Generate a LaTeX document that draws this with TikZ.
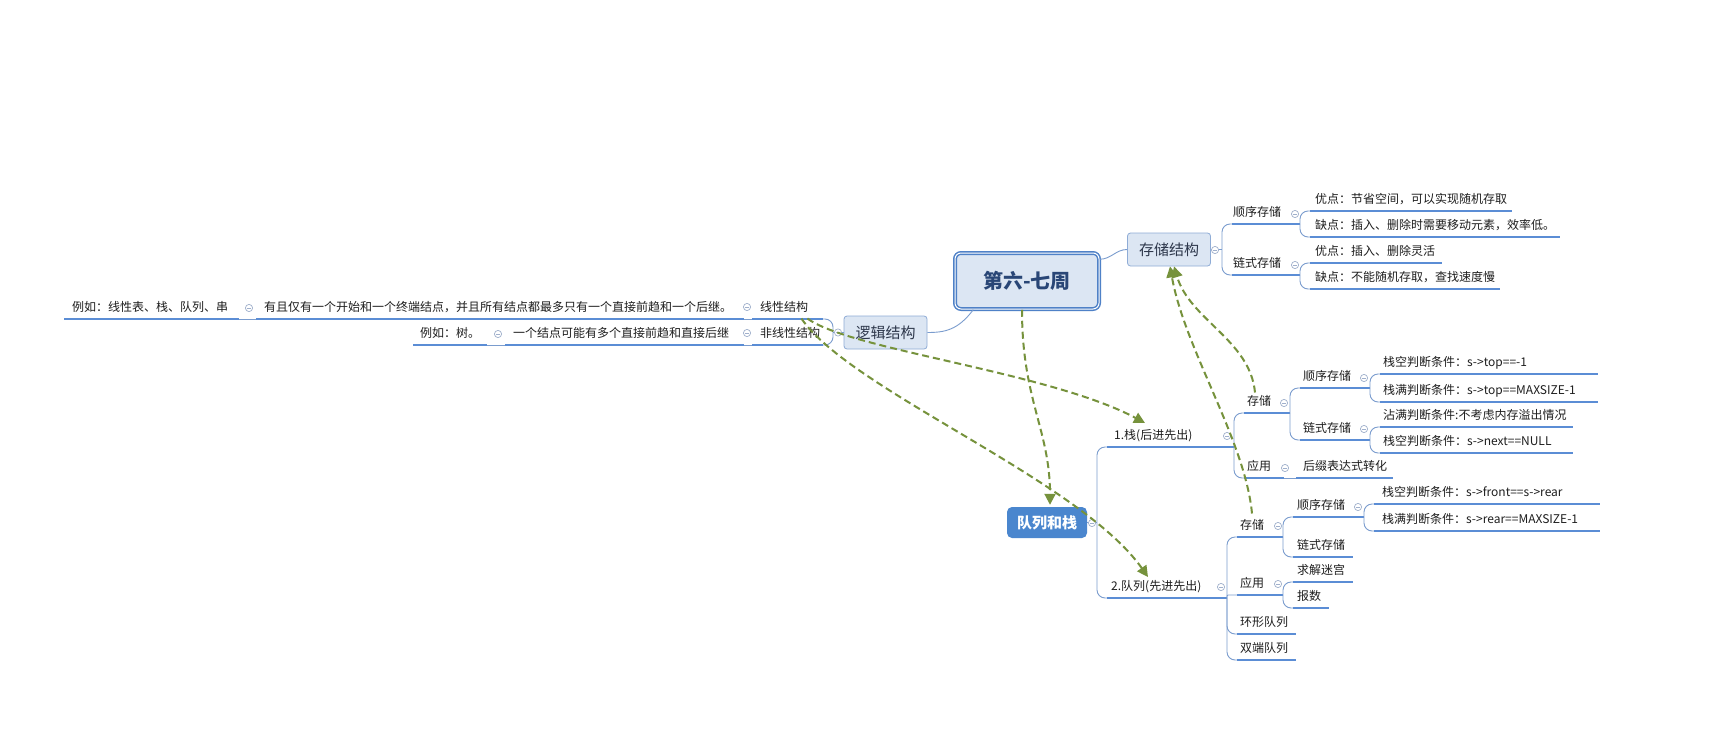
\documentclass[tikz,border=0pt]{standalone}
\usepackage{fontspec}
\setmainfont{Noto Sans CJK SC}
\usetikzlibrary{arrows.meta,calc}

\definecolor{ulc}{RGB}{91,141,213}
\definecolor{cnc}{RGB}{122,156,206}
\definecolor{mkc}{RGB}{160,176,204}
\definecolor{relc}{RGB}{118,146,60}
\definecolor{boxfill}{RGB}{220,230,243}
\definecolor{boxdraw}{RGB}{143,172,214}
\definecolor{centerdraw}{RGB}{79,129,199}
\definecolor{centertext}{RGB}{41,70,118}
\definecolor{qfill}{RGB}{74,134,206}
\definecolor{txtc}{RGB}{30,30,30}
\definecolor{boxtext}{RGB}{45,55,75}

\tikzset{
  tp/.style={inner sep=0pt, font=\fontsize{12}{14}\selectfont, text=txtc, anchor=base west},
  uline/.style={draw=ulc, line width=1.5pt},
  conn/.style={draw=cnc, line width=0.9pt, rounded corners=8pt},
  mk/.style={draw=mkc, line width=0.7pt, fill=white},
  rel/.style={draw=relc, line width=2pt, dash pattern=on 7pt off 4pt, -{Triangle[length=11pt,width=11pt]}},
  mbox/.style={draw=boxdraw, fill=boxfill, line width=0.8pt, rounded corners=3pt, minimum width=83pt, minimum height=33pt, inner sep=0pt, font=\fontsize{15}{18}\selectfont, text=boxtext},
  cbox/.style={draw=centerdraw, line width=1.5pt, double=white, double distance=1pt, fill=boxfill, rounded corners=6pt, minimum width=144pt, minimum height=56pt, inner sep=0pt, font=\fontsize{20}{24}\selectfont\bfseries, text=centertext},
  qbox/.style={fill=qfill, rounded corners=5pt, minimum width=80pt, minimum height=31pt, inner sep=0pt, font=\fontsize{15}{18}\selectfont\bfseries, text=white}
}

\newcommand\utopic[6]{%
  \node[tp] (#1) at (#2,#3-7.5) {#6};
  \coordinate (#1-l) at (#4,#3);
  \coordinate (#1-r) at (#5,#3);
  \draw[uline] (#1-l) -- (#1-r);}
\newcommand\colmark[2]{%
  \draw[mk] (#1,#2) circle (3.6pt);
  \draw[mk] (#1-2.2,#2) -- (#1+2.2,#2);}

\begin{document}
\begin{tikzpicture}[x=1pt,y=-1pt]
\fill[white] (0,0) rectangle (1722,755);
\useasboundingbox (0,0) rectangle (1722,755);

% main boxes
\node[cbox] (central) at (1027,281) {第六-七周};
\node[mbox] (stor) at (1169,249.5) {存储结构};
\node[mbox] (logic) at (885.5,332.5) {逻辑结构};
\node[qbox] (qz) at (1047,522.5) {队列和栈};

\draw[draw=cnc, line width=0.9pt] ($(central.north east)+(0,7)$) to[out=0,in=180] (stor.west);
\draw[draw=cnc, line width=0.9pt] ($(central.south west)+(19,0)$) .. controls (958,330) and (945,332.5) .. (logic.east);

% ---------- left: logic structure
\coordinate (logic-t) at (833,332.5);
\draw[conn] (logic.west) -- (logic-t);
\utopic{lin}{760}{319}{752}{823}{线性结构}
\utopic{nonlin}{760}{345}{752}{823}{非线性结构}
\draw[conn] (logic-t) |- (lin-r);
\draw[conn] (logic-t) |- (nonlin-r);
\utopic{g1}{264}{319}{256}{744}{有且仅有一个开始和一个终端结点，并且所有结点都最多只有一个直接前趋和一个后继。}
\utopic{g1a}{72}{319}{64}{239}{例如：线性表、栈、队列、串}
\utopic{g2}{513}{345}{505}{744}{一个结点可能有多个直接前趋和直接后继}
\utopic{g2a}{420}{345}{413}{487}{例如：树。}
\draw[conn] (lin-l) -- (g1-r);
\draw[conn] (g1-l) -- (g1a-r);
\draw[conn] (nonlin-l) -- (g2-r);
\draw[conn] (g2-l) -- (g2a-r);
\colmark{838}{332.5}
\colmark{747}{307}
\colmark{747}{333}
\colmark{249}{308}
\colmark{498}{334}

% ---------- right: storage structure
\coordinate (stor-t) at (1222,249.5);
\draw[conn] (stor.east) -- (stor-t);
\utopic{s1}{1233}{224}{1232}{1300}{顺序存储}
\utopic{s2}{1233}{275}{1232}{1300}{链式存储}
\draw[conn] (stor-t) |- (s1-l);
\draw[conn] (stor-t) |- (s2-l);
\utopic{s1a}{1315}{211}{1310}{1512}{优点：节省空间，可以实现随机存取}
\utopic{s1b}{1315}{237}{1310}{1560}{缺点：插入、删除时需要移动元素，效率低。}
\utopic{s2a}{1315}{263}{1310}{1442}{优点：插入、删除灵活}
\utopic{s2b}{1315}{289}{1310}{1500}{缺点：不能随机存取，查找速度慢}
\draw[conn] (s1-r) |- (s1a-l);
\draw[conn] (s1-r) |- (s1b-l);
\draw[conn] (s2-r) |- (s2a-l);
\draw[conn] (s2-r) |- (s2b-l);
\colmark{1215}{250}
\colmark{1295}{214}
\colmark{1295}{265}

% ---------- queue and stack
\coordinate (qz-t) at (1097,522.5);
\draw[conn] (qz.east) -- (qz-t);
\utopic{stk}{1114}{447}{1107}{1234}{1.栈(后进先出)}
\utopic{que}{1111}{598}{1107}{1227}{2.队列(先进先出)}
\draw[conn] (qz-t) |- (stk-l);
\draw[conn] (qz-t) |- (que-l);

\utopic{st}{1247}{413}{1244}{1290}{存储}
\utopic{sa}{1247}{478}{1244}{1284}{应用}
\draw[conn] (stk-r) |- (st-l);
\draw[conn] (stk-r) |- (sa-l);
\utopic{st1}{1303}{388}{1300}{1370}{顺序存储}
\utopic{st2}{1303}{440}{1300}{1370}{链式存储}
\draw[conn] (st-r) |- (st1-l);
\draw[conn] (st-r) |- (st2-l);
\utopic{st1a}{1383}{374}{1380}{1598}{栈空判断条件：s->top==-1}
\utopic{st1b}{1383}{402}{1380}{1598}{栈满判断条件：s->top==MAXSIZE-1}
\utopic{st2a}{1383}{427}{1380}{1573}{沾满判断条件:不考虑内存溢出情况}
\utopic{st2b}{1383}{453}{1380}{1573}{栈空判断条件：s->next==NULL}
\draw[conn] (st1-r) |- (st1a-l);
\draw[conn] (st1-r) |- (st1b-l);
\draw[conn] (st2-r) |- (st2a-l);
\draw[conn] (st2-r) |- (st2b-l);
\utopic{sa1}{1303}{478}{1296}{1393}{后缀表达式转化}
\draw[conn] (sa-r) -- (sa1-l);

\utopic{qs}{1240}{537}{1237}{1283}{存储}
\utopic{qa}{1240}{595}{1237}{1283}{应用}
\utopic{qr}{1240}{634}{1237}{1296}{环形队列}
\utopic{qd}{1240}{660}{1237}{1296}{双端队列}
\draw[conn] (que-r) |- (qs-l);
\draw[conn, rounded corners=1pt] (que-r) |- (qa-l);
\draw[conn] (que-r) |- (qr-l);
\draw[conn] (que-r) |- (qd-l);
\utopic{qs1}{1297}{517}{1293}{1364}{顺序存储}
\utopic{qs2}{1297}{557}{1293}{1353}{链式存储}
\draw[conn] (qs-r) |- (qs1-l);
\draw[conn] (qs-r) |- (qs2-l);
\utopic{qs1a}{1382}{504}{1374}{1600}{栈空判断条件：s->front==s->rear}
\utopic{qs1b}{1382}{531}{1374}{1600}{栈满判断条件：s->rear==MAXSIZE-1}
\draw[conn] (qs1-r) |- (qs1a-l);
\draw[conn] (qs1-r) |- (qs1b-l);
\utopic{qa1}{1297}{582}{1293}{1353}{求解迷宫}
\utopic{qa2}{1297}{608}{1293}{1329}{报数}
\draw[conn] (qa-r) |- (qa1-l);
\draw[conn] (qa-r) |- (qa2-l);

\colmark{1092}{523}
\colmark{1227}{436}
\colmark{1284}{403}
\colmark{1364}{378}
\colmark{1364}{429}
\colmark{1285}{468}
\colmark{1221}{587}
\colmark{1278}{526}
\colmark{1358}{507}
\colmark{1278}{584}

% ---------- relationship arrows
\draw[rel] ($(central.south)+(-5,0)$) .. controls (1022,400) and (1050,430) .. ($(qz.north)+(3,-2)$);
\draw[rel] ($(lin.base east)+(-1,7)$) .. controls (850,350) and (1050,372) .. ($(stk.base west)+(31,-16.5)$);
\draw[rel] ($(lin.base east)+(-7,7)$) .. controls (850,390) and (1080,480) .. ($(que.base west)+(37,-13.5)$);
\draw[rel] ($(st.base west)+(8,-13)$) .. controls (1250,340) and (1190,320) .. ($(stor.south)+(5,0)$);
\draw[rel] ($(qs.base west)+(12,-16)$) .. controls (1245,440) and (1185,350) .. ($(stor.south)+(1,0)$);
\end{tikzpicture}
\end{document}
